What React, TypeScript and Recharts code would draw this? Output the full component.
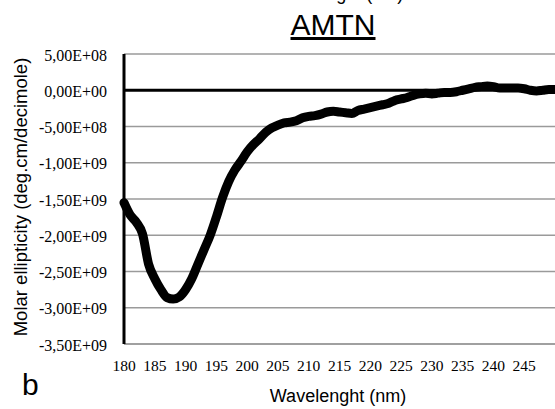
import React from 'react';
import {
  LineChart,
  Line,
  XAxis,
  YAxis,
  CartesianGrid,
  ReferenceLine,
} from 'recharts';

// wavelength in nm
const wavelengths = [
  180, 181, 182, 183, 184, 185, 186, 187, 188, 189,
  190, 191, 192, 193, 194, 195, 196, 197, 198, 199,
  200, 201, 202, 203, 204, 205, 206, 207, 208, 209,
  210, 211, 212, 213, 214, 215, 216, 217, 218, 219,
  220, 221, 222, 223, 224, 225, 226, 227, 228, 229,
  230, 231, 232, 233, 234, 235, 236, 237, 238, 239,
  240, 241, 242, 243, 244, 245, 246, 247, 248, 249, 250,
];

// molar ellipticity, in units of 1E+09 deg.cm/decimole
const ellipticity = [
  -1.55, -1.72, -1.82, -1.98, -2.4, -2.6, -2.75, -2.86, -2.88, -2.85,
  -2.75, -2.6, -2.4, -2.2, -2.0, -1.75, -1.48, -1.26, -1.1, -0.98,
  -0.85, -0.75, -0.67, -0.58, -0.52, -0.48, -0.45, -0.44, -0.42, -0.38,
  -0.36, -0.35, -0.33, -0.3, -0.29, -0.3, -0.31, -0.32, -0.28, -0.26,
  -0.24, -0.22, -0.2, -0.18, -0.14, -0.12, -0.1, -0.07, -0.05, -0.04,
  -0.05, -0.04, -0.03, -0.03, -0.02, 0.0, 0.02, 0.04, 0.05, 0.06,
  0.05, 0.03, 0.03, 0.03, 0.03, 0.02, 0.0, -0.01, 0.0, 0.01, 0.01,
];

const xTicks = [180, 185, 190, 195, 200, 205, 210, 215, 220, 225, 230, 235, 240, 245];
const yTicks = [5e8, 0, -5e8, -1e9, -1.5e9, -2e9, -2.5e9, -3e9, -3.5e9];

const data = wavelengths.map((w, i) => ({ w, v: ellipticity[i] * 1e9 }));

// Excel style "5,00E+08"
const sciLabel = (v: number) => {
  if (v === 0) return '0,00E+00';
  const exp = Math.floor(Math.log10(Math.abs(v)));
  const mant = (v / Math.pow(10, exp)).toFixed(2).replace('.', ',');
  const e = String(Math.abs(exp)).padStart(2, '0');
  return `${mant}E${exp < 0 ? '-' : '+'}${e}`;
};

const serif = '"Liberation Serif", "Times New Roman", serif';
const sans = '"Liberation Sans", Arial, sans-serif';

const XTick = ({ x, y, payload }: any) => (
  <text x={x} y={y + 11} textAnchor="middle" fontFamily={serif} fontSize={15.5} fill="#000">
    {payload.value}
  </text>
);

const YTick = ({ x, y, payload }: any) => (
  <text x={x} y={y + 6.5} textAnchor="end" fontFamily={serif} fontSize={16} fill="#000">
    {sciLabel(payload.value)}
  </text>
);

export default function App() {
  return (
    <div style={{ position: 'absolute', left: 0, top: 0, width: 555, height: 409, background: '#fff' }}>
      <LineChart
        width={555}
        height={409}
        data={data}
        margin={{ top: 54, right: 0, bottom: 0, left: 0 }}
      >
        <CartesianGrid vertical={false} stroke="#9a9a9a" strokeWidth={1.5} />
        <XAxis
          dataKey="w"
          type="number"
          domain={[180, 250]}
          ticks={xTicks}
          height={65}
          tickLine={false}
          tickSize={6}
          tickMargin={10}
          axisLine={{ stroke: '#9a9a9a', strokeWidth: 1.5 }}
          tick={<XTick />}
        />
        <YAxis
          type="number"
          domain={[-3.5e9, 5e8]}
          ticks={yTicks}
          width={124}
          tickLine={false}
          tickSize={6}
          tickMargin={11}
          axisLine={{ stroke: '#000', strokeWidth: 3 }}
          tick={<YTick />}
        />
        <ReferenceLine y={0} stroke="#000" strokeWidth={3} />
        <Line
          dataKey="v"
          type="monotone"
          stroke="#000"
          strokeWidth={9}
          strokeLinejoin="round"
          strokeLinecap="round"
          dot={false}
          isAnimationActive={false}
        />
      </LineChart>
      <svg
        width={555}
        height={409}
        style={{ position: 'absolute', left: 0, top: 0, pointerEvents: 'none', overflow: 'hidden' }}
      >
        <text x={335} y={0} textAnchor="middle" fontFamily={sans} fontSize={18} fill="#000">
          Wavelength (nm)
        </text>
        <text
          x={333}
          y={35}
          textAnchor="middle"
          fontFamily={sans}
          fontSize={30}
          fill="#000"
          style={{ textDecoration: 'underline' }}
        >
          AMTN
        </text>
        <text
          transform="translate(27, 197) rotate(-90)"
          textAnchor="middle"
          fontFamily={sans}
          fontSize={18.5}
          fill="#000"
        >
          Molar ellipticity (deg.cm/decimole)
        </text>
        <text x={338} y={402} textAnchor="middle" fontFamily={sans} fontSize={18} fill="#000">
          Wavelenght (nm)
        </text>
        <text x={22} y={395} fontFamily={sans} fontSize={30} fill="#000">
          b
        </text>
      </svg>
    </div>
  );
}
